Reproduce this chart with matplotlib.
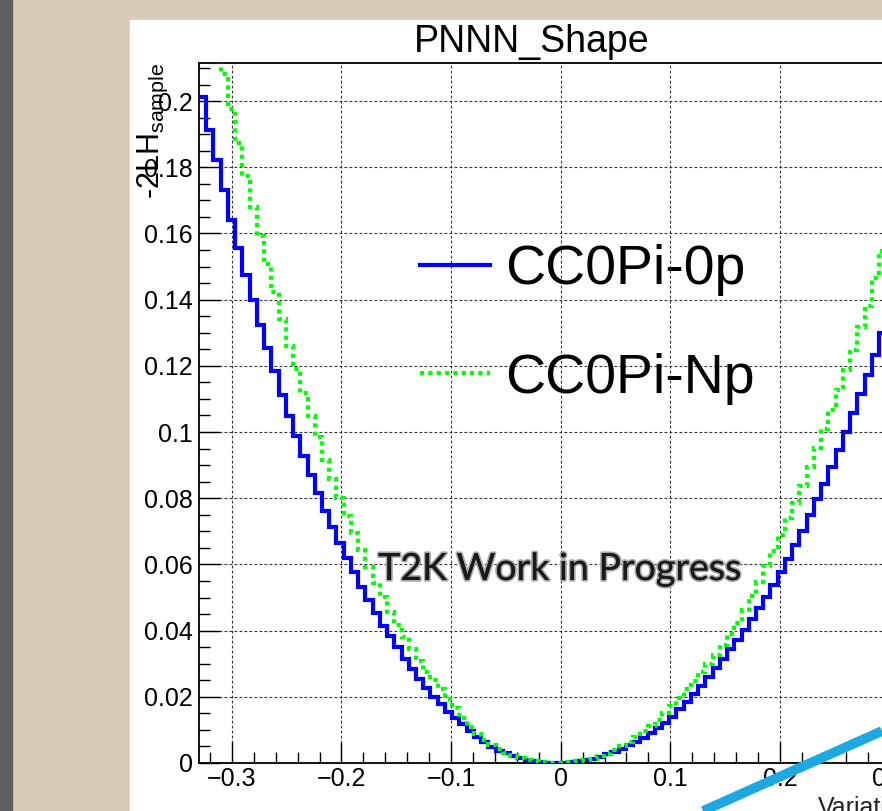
import numpy as np
import matplotlib
matplotlib.use('Agg')
import matplotlib.pyplot as plt
from matplotlib import patheffects
from matplotlib.lines import Line2D
from matplotlib.patches import Rectangle
from matplotlib.ticker import MultipleLocator, FixedLocator, FixedFormatter

plt.rcParams['font.family'] = ['Liberation Sans', 'DejaVu Sans']
plt.rcParams['mathtext.fontset'] = 'custom'
plt.rcParams['mathtext.rm'] = 'Liberation Sans'

# histogram binning (ROOT TH1: 100 bins)
x_min, x_max, n_bins = -0.33, 0.33, 100

# -2LH per bin
cc0pi_0p = [
    0.2013, 0.1914, 0.1822, 0.1731, 0.1640, 0.1555, 0.1474, 0.1399, 0.1323, 0.1253,
    0.1185, 0.1112, 0.1048, 0.0988, 0.0927, 0.0870, 0.0815, 0.0762, 0.0712, 0.0666,
    0.0618, 0.0576, 0.0533, 0.0492, 0.0452, 0.0415, 0.0383, 0.0351, 0.0313, 0.0283,
    0.0254, 0.0226, 0.0200, 0.0178, 0.0153, 0.0135, 0.0117, 0.0097, 0.0080, 0.0064,
    0.0049, 0.0037, 0.0029, 0.0022, 0.0014, 0.0009, 0.0005, 0.0003, 0.0001, 0.0000,
    0.0001, 0.0003, 0.0005, 0.0008, 0.0013, 0.0019, 0.0026, 0.0034, 0.0043, 0.0053,
    0.0064, 0.0077, 0.0091, 0.0106, 0.0122, 0.0140, 0.0162, 0.0185, 0.0209, 0.0233,
    0.0259, 0.0286, 0.0313, 0.0343, 0.0372, 0.0402, 0.0435, 0.0467, 0.0501, 0.0538,
    0.0578, 0.0615, 0.0659, 0.0701, 0.0749, 0.0797, 0.0843, 0.0895, 0.0947, 0.1000,
    0.1056, 0.1116, 0.1172, 0.1234, 0.1298, 0.1360, 0.1425, 0.1490, 0.1560, 0.1630,
]
cc0pi_np = [
    0.2400, 0.2295, 0.2190, 0.2082, 0.1975, 0.1874, 0.1773, 0.1681, 0.1593, 0.1508,
    0.1422, 0.1343, 0.1259, 0.1189, 0.1117, 0.1048, 0.0984, 0.0915, 0.0857, 0.0800,
    0.0746, 0.0694, 0.0644, 0.0591, 0.0545, 0.0502, 0.0457, 0.0417, 0.0380, 0.0343,
    0.0308, 0.0276, 0.0251, 0.0223, 0.0192, 0.0165, 0.0135, 0.0108, 0.0088, 0.0070,
    0.0054, 0.0041, 0.0030, 0.0021, 0.0014, 0.0009, 0.0005, 0.0003, 0.0001, 0.0000,
    0.0001, 0.0003, 0.0005, 0.0008, 0.0013, 0.0020, 0.0028, 0.0039, 0.0050, 0.0064,
    0.0080, 0.0096, 0.0113, 0.0131, 0.0150, 0.0172, 0.0197, 0.0225, 0.0249, 0.0274,
    0.0300, 0.0327, 0.0357, 0.0389, 0.0424, 0.0463, 0.0505, 0.0548, 0.0594, 0.0641,
    0.0690, 0.0739, 0.0787, 0.0838, 0.0893, 0.0952, 0.1008, 0.1066, 0.1127, 0.1187,
    0.1248, 0.1316, 0.1381, 0.1466, 0.1548, 0.1630, 0.1710, 0.1790, 0.1870, 0.1950,
]
series_names = ['CC0Pi-0p', 'CC0Pi-Np']

x_ticks = [-0.3, -0.2, -0.1, 0.0, 0.1, 0.2, 0.3]
x_tick_labels = ['\u22120.3', '\u22120.2', '\u22120.1', '0', '0.1', '0.2', '0.3']
y_ticks = [0.0, 0.02, 0.04, 0.06, 0.08, 0.1, 0.12, 0.14, 0.16, 0.18, 0.2]
y_tick_labels = ['0', '0.02', '0.04', '0.06', '0.08', '0.1', '0.12', '0.14', '0.16', '0.18', '0.2']
y_max = 0.2115

W, H = 882, 811
fig = plt.figure(figsize=(W / 100, H / 100), dpi=100)
fig.patch.set_facecolor('#d7cdb6')
# slide background: dark edge strip + white canvas
fig.patches.append(Rectangle((0, 0), 12 / W, 1, transform=fig.transFigure,
                             color='#5e5e5e', zorder=-10))
fig.patches.append(Rectangle((130 / W, 0), 1, 1 - 20 / H, transform=fig.transFigure,
                             color='white', zorder=-10))

ax = fig.add_axes([199 / W, 48 / H, 723.4 / W, 700 / H])
ax.set_facecolor('white')

edges = np.linspace(x_min, x_max, n_bins + 1)
ax.stairs(cc0pi_0p, edges, baseline=None, color='#0000ff', lw=3.0,
          label=series_names[0], zorder=3)
ax.stairs(cc0pi_np, edges, baseline=None, color='#00ff00', lw=3.0,
          linestyle=(0, (1, 1)), label=series_names[1], zorder=4)

ax.set_xlim(x_min, x_max)
ax.set_ylim(0, y_max)
ax.xaxis.set_major_locator(FixedLocator(x_ticks))
ax.xaxis.set_major_formatter(FixedFormatter(x_tick_labels))
ax.yaxis.set_major_locator(FixedLocator(y_ticks))
ax.yaxis.set_major_formatter(FixedFormatter(y_tick_labels))
ax.xaxis.set_minor_locator(MultipleLocator(0.02))
ax.yaxis.set_minor_locator(MultipleLocator(0.005))
ax.tick_params(which='major', direction='in', length=15, width=1.0, labelsize=18,
               colors='black')
ax.tick_params(axis='x', which='major', pad=3)
ax.tick_params(axis='y', which='major', pad=4.5)
ax.tick_params(which='minor', direction='in', length=8, width=1.0)
ax.grid(True, which='major', color='#333333', lw=0.8, linestyle=(0, (2.5, 2)))
ax.set_axisbelow(True)
for s in ax.spines.values():
    s.set_linewidth(1.3)

ax.text(-0.056, 1.0, '-2LH$_\\mathrm{sample}$', transform=ax.transAxes, rotation=90,
        ha='right', va='baseline', rotation_mode='anchor', fontsize=22)

fig.text(532 / W, 1 - 52 / H, 'PNNN_Shape', ha='center', va='baseline', fontsize=27)

ax.legend(loc='upper left', bbox_to_anchor=(420 / W, 1 - 244 / H),
          bbox_transform=fig.transFigure, frameon=False, fontsize=40,
          handlelength=1.26, handletextpad=0.27, labelspacing=1.02,
          borderpad=0, borderaxespad=0)

fig.text(560 / W, 1 - 569 / H, 'T2K Work in Progress', ha='center', va='center',
         fontsize=27, family='Lato', color='#1a1a1a',
         path_effects=[patheffects.withStroke(linewidth=2.5, foreground='#a8a8a8'),
                       patheffects.Normal()])

fig.text(818 / W, 1 - 796 / H, 'Variation', ha='left', va='top', fontsize=18,
         color='#222222')

# slide annotation stroke in the corner
fig.add_artist(Line2D([703 / W, 1.0], [0, 80 / H], transform=fig.transFigure,
                      color='#1ea8e2', lw=7, solid_capstyle='butt', zorder=10))

fig.savefig('out.png', dpi=100)
